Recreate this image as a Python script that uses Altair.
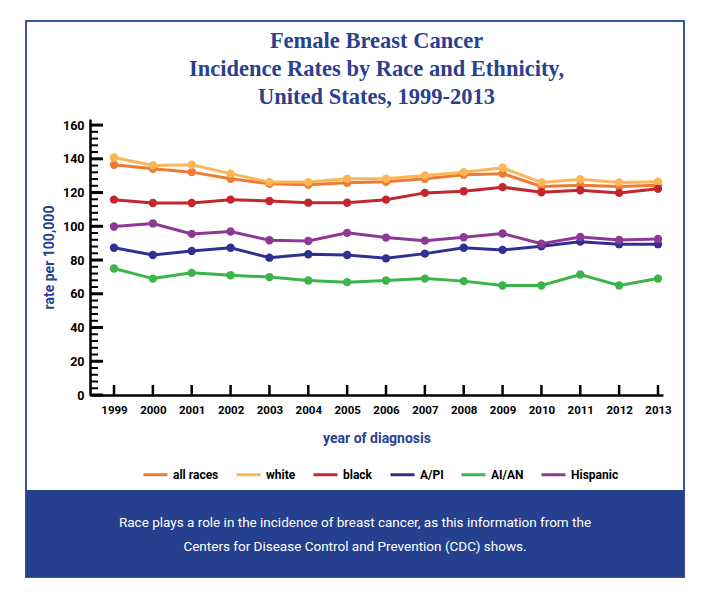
import altair as alt
import pandas as pd

# ---------------- data ----------------
years = list(range(1999, 2014))
series_names = ["all races", "white", "black", "A/PI", "AI/AN", "Hispanic"]
all_races = [136.5, 134.1, 132.1, 128.2, 125.2, 124.6, 125.8, 126.4, 128.2, 130.6, 131.2, 123.6, 124.4, 123.6, 124.4]
white = [140.8, 136.1, 136.5, 131.2, 126.2, 126.2, 128.2, 128.2, 130.1, 132.1, 134.7, 126.0, 127.9, 126.0, 126.4]
black = [115.8, 113.8, 113.8, 115.8, 115.0, 114.0, 114.0, 115.8, 119.8, 120.8, 123.2, 120.2, 121.4, 119.8, 122.2]
api = [87.3, 83.0, 85.4, 87.3, 81.4, 83.4, 83.0, 81.0, 83.8, 87.3, 86.0, 88.2, 90.9, 89.4, 89.4]
aian = [75.0, 69.0, 72.4, 71.0, 69.9, 67.9, 66.9, 67.9, 69.0, 67.5, 64.9, 64.9, 71.4, 64.9, 69.0]
hispanic = [99.9, 101.7, 95.5, 96.9, 91.7, 91.3, 96.1, 93.3, 91.5, 93.5, 95.7, 89.7, 93.7, 91.9, 92.5]
series_colors = ["#EF7A36", "#FDB657", "#C1272D", "#2E3192", "#3BB44A", "#8E3896"]

y_major_ticks = [0, 20, 40, 60, 80, 100, 120, 140, 160]
y_minor_ticks = [v for v in range(0, 161, 4) if v % 20 != 0]

title_lines = ["Female Breast Cancer", "Incidence Rates by Race and Ethnicity,", "United States, 1999-2013"]
caption_lines = ["Race plays a role in the incidence of breast cancer, as this information from the",
                 "Centers for Disease Control and Prevention (CDC) shows."]

# ---------------- table ----------------
values = [all_races, white, black, api, aian, hispanic]
rows = []
for name, vals in zip(series_names, values):
    for yr, v in zip(years, vals):
        rows.append({"year": yr, "rate": v, "series": name})
df = pd.DataFrame(rows)

W, H = 573, 276
NAVY = "#2A3F8F"
BAND = "#24408E"
COND = "Roboto, 'Liberation Sans', sans-serif"
SERIF = "'Liberation Serif', 'DejaVu Serif', serif"

xscale = alt.Scale(domain=[1998.382, 2013.129], nice=False, zero=False)
yscale = alt.Scale(domain=[0, 163.6], nice=False, zero=False)
cscale = alt.Scale(domain=series_names, range=series_colors)

one = pd.DataFrame({"k": [0]})

frame = alt.Chart(one).mark_rect(fill="white", fillOpacity=0, stroke="#3A56A3", strokeWidth=2).encode(
    x=alt.value(-64), x2=alt.value(594), y=alt.value(-98), y2=alt.value(458))
band = alt.Chart(one).mark_rect(fill=BAND).encode(
    x=alt.value(-64), x2=alt.value(594), y=alt.value(371), y2=alt.value(458))

title_layers = []
for line, yy in zip(title_lines, [-71, -43, -15]):
    title_layers.append(alt.Chart(one).mark_text(
        text=line, font=SERIF, fontSize=22.5, fontWeight="bold", color=NAVY,
        align="center", baseline="alphabetic").encode(x=alt.value(W / 2), y=alt.value(yy)))

caption_layers = []
for line, yy in zip(caption_lines, [404, 428]):
    caption_layers.append(alt.Chart(one).mark_text(
        text=line, font=COND, fontSize=13.5, color="white",
        align="center", baseline="middle").encode(x=alt.value(265), y=alt.value(yy)))

base = alt.Chart(df)
lines = base.mark_line(strokeWidth=3).encode(
    x=alt.X("year:Q", scale=xscale,
            axis=alt.Axis(values=years, format="d", ticks=False, tickSize=0, grid=False,
                          labelOverlap=False, labelFlush=False,
                          domainColor="black", domainWidth=2.5, labelPadding=9,
                          labelFont=COND, labelFontSize=11.5, labelFontWeight="bold", labelColor="black",
                          title="year of diagnosis", titleFont=COND, titleFontSize=14,
                          titleFontWeight="bold", titleColor=NAVY, titleY=43, titleBaseline="middle")),
    y=alt.Y("rate:Q", scale=yscale,
            axis=alt.Axis(values=y_major_ticks, ticks=False, tickSize=0, grid=False,
                          labelOverlap=False, labelFlush=False,
                          domainColor="black", domainWidth=2.5, labelPadding=6,
                          labelFont=COND, labelFontSize=12.5, labelFontWeight="bold", labelColor="black",
                          title="rate per 100,000", titleFont=COND, titleFontSize=14,
                          titleFontWeight="bold", titleColor=NAVY, titleAngle=270,
                          titleX=-41, titleY=H / 2, titleAlign="center", titleBaseline="middle")),
    color=alt.Color("series:N", scale=cscale, sort=series_names,
                    legend=alt.Legend(orient="none", legendX=52, legendY=342, direction="horizontal",
                                      columns=6, title=None, symbolType="stroke", symbolSize=576,
                                      symbolStrokeWidth=3, labelFont=COND, labelFontSize=12,
                                      labelFontWeight="bold", labelColor="black", columnPadding=11,
                                      labelOffset=4, padding=0)),
    detail="series:N",
)
points = base.mark_circle(size=70, opacity=1).encode(
    x=alt.X("year:Q", scale=xscale, axis=None),
    y=alt.Y("rate:Q", scale=yscale, axis=None),
    color=alt.Color("series:N", scale=cscale, legend=None),
)

major_ticks = alt.Chart(pd.DataFrame({"v": y_major_ticks})).mark_rule(color="black", strokeWidth=3).encode(
    y=alt.Y("v:Q", scale=yscale, axis=None), x=alt.value(0), x2=alt.value(13))
minor_ticks = alt.Chart(pd.DataFrame({"v": y_minor_ticks})).mark_rule(color="black", strokeWidth=2).encode(
    y=alt.Y("v:Q", scale=yscale, axis=None), x=alt.value(0), x2=alt.value(8))
x_ticks = alt.Chart(pd.DataFrame({"yr": years})).mark_rule(color="black", strokeWidth=2.5).encode(
    x=alt.X("yr:Q", scale=xscale, axis=None), y=alt.value(H - 10), y2=alt.value(H))

chart = alt.layer(
    frame, band, *title_layers, *caption_layers, lines, points, major_ticks, minor_ticks, x_ticks
).resolve_axis(
    x="independent", y="independent"
).properties(
    width=W, height=H,
    autosize=alt.AutoSizeParams(type="none"),
    padding={"left": 82, "top": 111, "right": 35, "bottom": 188},
    background="white",
).configure_view(stroke=None).configure_axis(labelOverlap=False)

chart.save("out.html", embed_options={"renderer": "svg", "actions": False})
